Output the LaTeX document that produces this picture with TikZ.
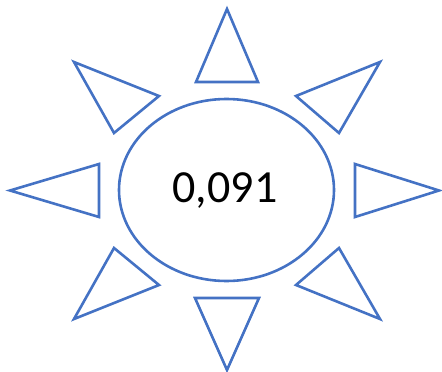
\documentclass[tikz,border=0pt]{standalone}
\usepackage{fontspec}
\setmainfont{Carlito}
\definecolor{sunblue}{HTML}{4472C4}
\begin{document}
\begin{tikzpicture}[x=1pt,y=-1pt,
  ray/.style={draw=sunblue,line width=2.6pt,line join=miter},
  disc/.style={draw=sunblue,line width=2.6pt}]
\useasboundingbox (0,0) rectangle (442,372);
% center disc
\draw[disc] (226.5,190) ellipse [x radius=107.5, y radius=91];
\node (val) at (225,191) {\fontsize{46}{50}\selectfont 0,091};
% rays
\draw[ray] (227,9) -- (258,82) -- (196,82) -- cycle;       % top
\draw[ray] (227,370) -- (259,298) -- (195,298) -- cycle;   % bottom
\draw[ray] (10,190.5) -- (99,164) -- (99,217) -- cycle;    % left
\draw[ray] (439,190.5) -- (355,164) -- (355,217) -- cycle; % right
\draw[ray] (74,62) -- (159,96) -- (114,133) -- cycle;      % top-left
\draw[ray] (380,62) -- (296,96) -- (339,133) -- cycle;     % top-right
\draw[ray] (74,319) -- (159,285) -- (114,248) -- cycle;    % bottom-left
\draw[ray] (380,319) -- (296,285) -- (339,248) -- cycle;   % bottom-right
\end{tikzpicture}
\end{document}
